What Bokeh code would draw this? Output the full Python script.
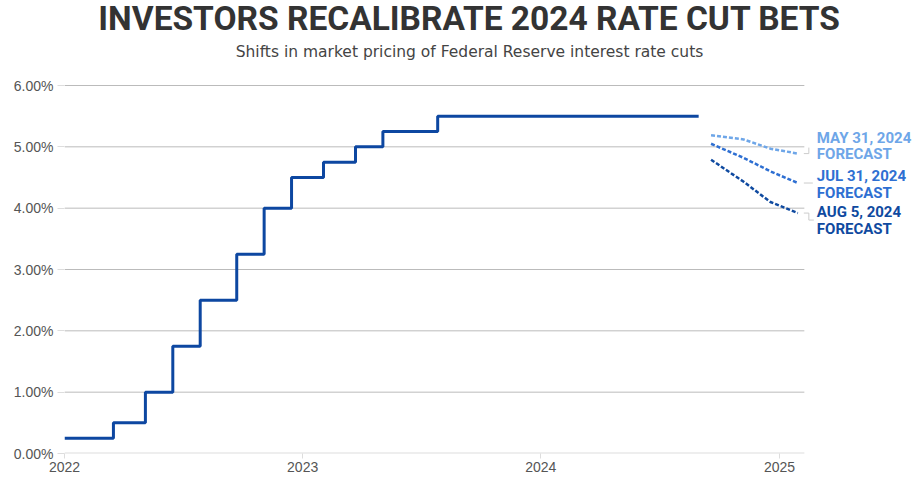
import pandas as pd
from bokeh.plotting import figure
from bokeh.models import (Range1d, FixedTicker, DatetimeTickFormatter, PrintfTickFormatter,
                          Label)
from bokeh.embed import file_html
from bokeh.resources import INLINE

# ---------------- data ----------------
rate_dates = ["2022-01-01", "2022-03-17", "2022-05-05", "2022-06-16", "2022-07-28",
              "2022-09-22", "2022-11-03", "2022-12-15", "2023-02-02", "2023-03-23",
              "2023-05-04", "2023-07-27", "2024-08-30"]
rate_values = [0.25, 0.50, 1.00, 1.75, 2.50, 3.25, 4.00, 4.50, 4.75, 5.00, 5.25, 5.50, 5.50]

forecast_dates = ["2024-09-18", "2024-11-07", "2024-12-18", "2025-01-29"]
forecast_may31 = [5.19, 5.12, 4.97, 4.89]
forecast_jul31 = [5.05, 4.82, 4.60, 4.41]
forecast_aug5 = [4.79, 4.43, 4.10, 3.92]
forecast_names = ["MAY 31, 2024", "JUL 31, 2024", "AUG 5, 2024"]

year_ticks = ["2022-01-01", "2023-01-01", "2024-01-01", "2025-01-01"]
y_ticks = [0, 1, 2, 3, 4, 5, 6]
grid_end = "2025-02-08"                        # gridlines stop here

title_text = "INVESTORS RECALIBRATE 2024 RATE CUT BETS"
subtitle_text = "Shifts in market pricing of Federal Reserve interest rate cuts"

# ---------------- layout / styles ----------------
MAIN_COLOR = "#0d47a1"
FC_COLORS = ["#6ea6e8", "#2e6fd2", "#0f4aa0"]
LABEL_FONT = "Roboto"
TICK_FONT = "Liberation Sans"

W, H = 920, 485
ML, MB = 64, 32
frame_w = W - ML
frame_h = H - MB
x_start = pd.Timestamp("2022-01-01")
PX_PER_YEAR = 238.3                 # horizontal scale
Y_TOP_PX = 85                       # pixel row of the 6% line
PX_PER_UNIT = (frame_h - Y_TOP_PX) / 6.0
x_end = x_start + pd.Timedelta(days=365.25 * frame_w / PX_PER_YEAR)
y_start, y_end = 0, frame_h / PX_PER_UNIT


def ms(d):
    return pd.Timestamp(d).value / 1e6


def px_to_x(px):
    return ms(x_start) + (px - ML) * (ms(x_end) - ms(x_start)) / frame_w


def px_to_y(py):
    return (frame_h - py) / PX_PER_UNIT


rd = pd.to_datetime(rate_dates)
fd = pd.to_datetime(forecast_dates)

p = figure(width=W, height=H, x_axis_type="datetime",
           x_range=Range1d(x_start, x_end), y_range=Range1d(y_start, y_end),
           output_backend="svg", toolbar_location=None,
           min_border_left=ML, min_border_right=0, min_border_top=0, min_border_bottom=MB)
p.title.text = ""
p.outline_line_color = None
p.background_fill_color = "white"
p.border_fill_color = "white"

# title and subtitle
p.add_layout(Label(x=px_to_x(469), y=px_to_y(18), text=title_text, text_font="Roboto",
                   text_font_size="33.5px", text_font_style="bold", text_color="#333333",
                   text_align="center", text_baseline="alphabetic"))
p.add_layout(Label(x=px_to_x(469), y=px_to_y(51), text=subtitle_text, text_font="DejaVu Sans",
                   text_font_size="15.5px", text_color="#444444",
                   text_align="center", text_baseline="alphabetic"))

# axes
p.xaxis.ticker = FixedTicker(ticks=[ms(d) for d in year_ticks])
p.xaxis.formatter = DatetimeTickFormatter(years="%Y", months="%Y", days="%Y", hours="%Y")
p.xaxis.axis_line_color = None
p.xaxis.major_tick_line_color = "#dddddd"
p.xaxis.major_tick_out = 5
p.xaxis.major_tick_in = 0
p.xaxis.minor_tick_line_color = None
p.xaxis.major_label_text_font = TICK_FONT
p.xaxis.major_label_text_font_size = "14px"
p.xaxis.major_label_text_color = "#555555"
p.xaxis.major_label_standoff = 3

p.yaxis.ticker = FixedTicker(ticks=y_ticks)
p.yaxis.formatter = PrintfTickFormatter(format="%.2f%%")
p.yaxis.axis_line_color = None
p.yaxis.major_tick_line_color = "#dddddd"
p.yaxis.major_tick_out = 7
p.yaxis.major_tick_in = 0
p.yaxis.minor_tick_line_color = None
p.yaxis.major_label_text_font = TICK_FONT
p.yaxis.major_label_text_font_size = "14px"
p.yaxis.major_label_text_color = "#555555"
p.yaxis.major_label_standoff = 4

p.xgrid.grid_line_color = None
p.ygrid.grid_line_color = None

# gridlines that stop before the label area
grid_y = [t for t in y_ticks if t != 0]
p.segment(x0=[x_start] * len(grid_y), x1=[pd.Timestamp(grid_end)] * len(grid_y),
          y0=grid_y, y1=grid_y, line_color="#bbbbbb", line_width=1)
# zero / baseline
p.segment(x0=[x_start], x1=[pd.Timestamp(grid_end)], y0=[0], y1=[0],
          line_color="#dddddd", line_width=2)

# main step line
p.step(rd, rate_values, mode="after", line_color=MAIN_COLOR, line_width=3)

# forecasts
series = [forecast_may31, forecast_jul31, forecast_aug5]
for vals, col in zip(series, FC_COLORS):
    p.line(fd, vals, line_color=col, line_width=2.5, line_dash="4 2")

# labels and connectors
px_x = (ms(x_end) - ms(x_start)) / frame_w
px_y = 1.0 / PX_PER_UNIT
last_x = ms(forecast_dates[-1])
# (line1 offset, line2 offset) in px relative to series end, positive = up
label_offsets = [(16, 0), (7, -9.5), (1, -15.5)]
# connector polylines, px offsets relative to series end
connectors = [
    [(6, 0), (11, 0), (11, 6)],
    [(6, 0), (15, 0)],
    [(6, 0), (11, 0), (11, -7), (16, -7)],
]
cx, cy = [], []
for vals, col, name, (o1, o2), conn in zip(series, FC_COLORS, forecast_names, label_offsets, connectors):
    y_last = vals[-1]
    for txt, off in ((name, o1), ("FORECAST", o2)):
        p.add_layout(Label(x=last_x, y=y_last, x_offset=19, y_offset=off, text=txt,
                           text_font=LABEL_FONT, text_font_size="15px", text_font_style="bold",
                           text_color=col, text_baseline="middle", text_align="left"))
    cx.append([last_x + a * px_x for a, _ in conn])
    cy.append([y_last + b * px_y for _, b in conn])
p.multi_line(cx, cy, line_color="#cccccc", line_width=1)

open("out.html", "w").write(file_html(p, INLINE))
